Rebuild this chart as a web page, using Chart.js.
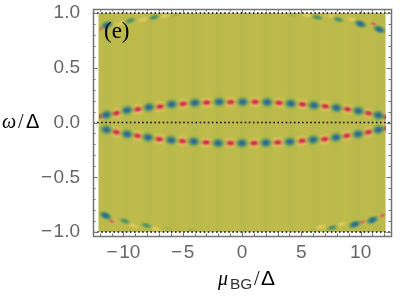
<!DOCTYPE html>
<html>
<head>
<meta charset="UTF-8">
<title>(e)</title>
<script src="https://cdn.jsdelivr.net/npm/chart.js"></script>
<style>
  body { margin: 0; background: #fff; }
  canvas { display: block; }
</style>
</head>
<body>
<canvas id="myChart" width="400" height="297"></canvas>
<script>
// tick labels
var xTicks = [-10, -5, 0, 5, 10];
var yTicks = [-1, -0.5, 0, 0.5, 1];
var xMinor = [-12, -11, -9, -8, -7, -6, -4, -3, -2, -1, 1, 2, 3, 4, 6, 7, 8, 9, 11, 12];
var yMinor = [-0.9, -0.8, -0.7, -0.6, -0.4, -0.3, -0.2, -0.1, 0.1, 0.2, 0.3, 0.4, 0.6, 0.7, 0.8, 0.9];

// band above zero
var upBlueX = [-11.43, -9.69, -7.85, -5.93, -3.97, -1.93, 0.06, 2.12, 4.11, 6.06, 7.96, 9.81, 11.49];
var upBlueY = [0.07, 0.112, 0.139, 0.166, 0.179, 0.188, 0.188, 0.185, 0.173, 0.157, 0.134, 0.106, 0.066];
var upRedX = [-12.04, -10.6, -8.79, -6.92, -4.96, -2.98, -0.97, 1.1, 3.12, 5.1, 7.02, 8.9, 10.66, 12.15];
var upRedY = [0.055, 0.085, 0.121, 0.145, 0.17, 0.182, 0.186, 0.188, 0.179, 0.166, 0.148, 0.121, 0.085, 0.048];

// band below zero
var lowBlueX = [-11.43, -9.69, -7.93, -5.97, -4.07, -2.01, 0, 2.01, 4.03, 6.0, 7.93, 9.78, 11.51];
var lowBlueY = [-0.066, -0.106, -0.136, -0.161, -0.173, -0.188, -0.188, -0.185, -0.176, -0.158, -0.136, -0.106, -0.066];
var lowRedX = [-10.6, -8.82, -6.98, -5.02, -3.03, -0.97, 1.02, 3.02, 5.06, 6.97, 8.82, 10.66, 12.15];
var lowRedY = [-0.088, -0.121, -0.152, -0.17, -0.182, -0.188, -0.188, -0.182, -0.167, -0.152, -0.121, -0.088, -0.052];

// pieces along the top and bottom edges
var edgeBlueX = [-11.4, 11.57, 9.98, -11.5, 10.99, 9.5];
var edgeBlueY = [0.89, 0.85, 0.90, -0.85, -0.89, -0.93];
var edgeGreenX = [-9.42, -7.4, 8.12, 6.34, -9.87, -8.05, 7.6];
var edgeGreenY = [0.93, 0.96, 0.94, 0.96, -0.90, -0.94, -0.96];
var edgeFaintX = [-5.65, 4.3, -6.3, -4.3, 6.2];
var edgeFaintY = [0.98, 0.98, -0.965, -0.98, -0.97];
var edgeRedX = [-11.9, 11.1, -11, 10.15, 11.85];
var edgeRedY = [0.855, 0.90, -0.90, -0.91, -0.85];
var edgeYellowX = [-10.2, -8.3, -6.5, 9.3, 7.6, 5.45, -9.2, -7.3, 8.35, 6.6];
var edgeYellowY = [0.905, 0.94, 0.97, 0.94, 0.965, 0.98, -0.94, -0.97, -0.93, -0.955];

var bgColor = '#bdbb4c';
var frameColor = '#737373';
var labelColor = '#666666';

function blob(w, h, stops) {
    var c = document.createElement('canvas');
    c.width = w;
    c.height = h;
    var g = c.getContext('2d');
    g.translate(w / 2, h / 2);
    g.scale(w / 2, h / 2);
    var rad = g.createRadialGradient(0, 0, 0, 0, 0, 1);
    for (var i = 0; i < stops.length; i++) {
        rad.addColorStop(stops[i][0], stops[i][1]);
    }
    g.fillStyle = rad;
    g.fillRect(-1, -1, 2, 2);
    return c;
}

function stripe(color) {
    var c = document.createElement('canvas');
    c.width = 12;
    c.height = 224;
    var g = c.getContext('2d');
    var lin = g.createLinearGradient(0, 0, 12, 0);
    lin.addColorStop(0, 'rgba(' + color + ',0)');
    lin.addColorStop(0.5, 'rgba(' + color + ',0.04)');
    lin.addColorStop(1, 'rgba(' + color + ',0)');
    g.fillStyle = lin;
    g.fillRect(0, 0, 12, 224);
    return c;
}

var blueSprite = blob(20, 15, [[0, 'rgba(48,95,165,1)'], [0.2, 'rgba(54,108,145,1)'], [0.42, 'rgba(72,142,108,0.8)'], [0.7, 'rgba(125,170,85,0.3)'], [1, 'rgba(189,187,76,0)']]);
var redSprite = blob(22, 13, [[0, 'rgba(208,40,85,1)'], [0.22, 'rgba(212,58,80,1)'], [0.4, 'rgba(230,140,85,0.75)'], [0.7, 'rgba(232,205,95,0.45)'], [1, 'rgba(189,187,76,0)']]);
var greenSprite = blob(16, 8, [[0, 'rgba(60,135,105,1)'], [0.45, 'rgba(85,150,95,0.7)'], [1, 'rgba(189,187,76,0)']]);
var faintSprite = blob(15, 6, [[0, 'rgba(130,168,88,0.7)'], [1, 'rgba(189,187,76,0)']]);
var yellowSprite = blob(17, 7, [[0, 'rgba(232,205,100,0.9)'], [0.5, 'rgba(228,205,95,0.5)'], [1, 'rgba(189,187,76,0)']]);
var edgeRedSprite = blob(10, 6, [[0, 'rgba(210,60,85,1)'], [0.4, 'rgba(225,120,90,0.8)'], [1, 'rgba(189,187,76,0)']]);
var edgeBlueSprite = blob(17, 10, [[0, 'rgba(48,95,165,1)'], [0.3, 'rgba(55,115,140,1)'], [0.6, 'rgba(80,150,100,0.7)'], [1, 'rgba(189,187,76,0)']]);

function zip(xs, ys) {
    return xs.map(function (x, i) { return { x: x, y: ys[i] }; });
}

function bandAt(xs, value) {
    return xs.map(function (x) { return { x: x, y: value }; });
}

// image region stays inside the frame, the same gap on every dataset
var imageClip = { left: -6, right: -5, top: -4, bottom: -4 };

function marks(data, sprite, rotation, order) {
    return {
        data: data,
        pointStyle: sprite,
        pointRadius: 8,
        rotation: rotation,
        clip: imageClip,
        order: order
    };
}

function tiltUp(ctx) { return ctx.raw.x * 1.1; }
function tiltLow(ctx) { return -ctx.raw.x * 1.1; }
function tiltEdge(ctx) { return ctx.raw.y > 0 ? ctx.raw.x * 2 : -ctx.raw.x * 2; }

function dotted(value) {
    return {
        data: [{ x: -12.56, y: value }, { x: 12.56, y: value }],
        showLine: true,
        pointRadius: 0,
        borderColor: '#000000',
        borderWidth: 1.5,
        borderDash: [1.5, 2.6],
        order: 0
    };
}

var imagePlugin = {
    id: 'imagePlugin',
    beforeDatasetsDraw: function (chart) {
        var c = chart.ctx, sx = chart.scales.x, sy = chart.scales.y;
        c.save();
        c.fillStyle = bgColor;
        c.fillRect(sx.getPixelForValue(-12.1), sy.getPixelForValue(1), sx.getPixelForValue(12.1) - sx.getPixelForValue(-12.1), sy.getPixelForValue(-1) - sy.getPixelForValue(1));
        c.restore();
    },
    afterDatasetsDraw: function (chart) {
        var c = chart.ctx, a = chart.chartArea, sx = chart.scales.x, sy = chart.scales.y;
        c.save();
        c.strokeStyle = frameColor;
        c.lineWidth = 1.5;
        c.strokeRect(a.left + 0.5, a.top + 0.5, a.right - a.left, a.bottom - a.top);
        c.lineWidth = 1;

        function xTick(v, len) {
            var p = Math.round(sx.getPixelForValue(v)) + 0.5;
            c.beginPath();
            c.moveTo(p, a.bottom); c.lineTo(p, a.bottom - len);
            c.moveTo(p, a.top); c.lineTo(p, a.top + len);
            c.stroke();
        }
        function yTick(v, len) {
            var p = Math.round(sy.getPixelForValue(v)) + 0.5;
            c.beginPath();
            c.moveTo(a.left, p); c.lineTo(a.left + len, p);
            c.moveTo(a.right, p); c.lineTo(a.right - len, p);
            c.stroke();
        }
        xMinor.forEach(function (v) { xTick(v, 2.5); });
        xTicks.forEach(function (v) { xTick(v, 4.5); });
        yMinor.forEach(function (v) { yTick(v, 2.5); });
        yTicks.forEach(function (v) { yTick(v, 4.5); });

        // labels with mixed fonts
        c.fillStyle = '#000000';
        c.textBaseline = 'alphabetic';
        c.font = '23px "Liberation Serif"';
        c.fillText('(e)', 104, 38);

        c.font = 'italic 20px "Liberation Serif"';
        c.fillText('ω', 2, 128);
        c.font = '20px "Liberation Serif"';
        c.fillText('/', 18, 128);
        c.font = '20px "Liberation Sans"';
        c.fillText('Δ', 26, 128);

        c.font = 'italic 20px "Liberation Serif"';
        c.fillText('μ', 218, 285);
        c.font = '15.5px "Liberation Sans"';
        c.fillStyle = '#333333';
        c.fillText('BG', 230, 289);
        c.fillStyle = '#000000';
        c.font = '20px "Liberation Serif"';
        c.fillText('/', 254, 285);
        c.font = '21px "Liberation Sans"';
        c.fillText('Δ', 261, 285);
        c.restore();
    }
};

function noPadding(s) {
    s.paddingLeft = 0;
    s.paddingRight = 0;
    s.paddingTop = 0;
    s.paddingBottom = 0;
}

new Chart(document.getElementById('myChart'), {
    type: 'scatter',
    data: {
        datasets: [
            dotted(1), dotted(0), dotted(-1),
            marks(zip(upBlueX, upBlueY), blueSprite, tiltUp, 1),
            marks(zip(upRedX, upRedY), redSprite, tiltUp, 2),
            marks(zip(lowBlueX, lowBlueY), blueSprite, tiltLow, 1),
            marks(zip(lowRedX, lowRedY), redSprite, tiltLow, 2),
            marks(zip(edgeBlueX, edgeBlueY), edgeBlueSprite, tiltEdge, 3),
            marks(zip(edgeRedX, edgeRedY), edgeRedSprite, tiltEdge, 3),
            marks(zip(edgeGreenX, edgeGreenY), greenSprite, tiltEdge, 4),
            marks(zip(edgeYellowX, edgeYellowY), yellowSprite, tiltEdge, 4),
            marks(zip(edgeFaintX, edgeFaintY), faintSprite, tiltEdge, 4),
            marks(bandAt(upBlueX, 0), stripe('70,130,100'), 0, 5),
            marks(bandAt(upRedX, 0), stripe('235,205,95'), 0, 5)
        ]
    },
    options: {
        responsive: false,
        animation: false,
        layout: { padding: { top: 8, right: 3, left: 0, bottom: 0 } },
        plugins: { legend: { display: false }, tooltip: { enabled: false } },
        scales: {
            x: {
                type: 'linear',
                min: -12.56,
                max: 12.56,
                grid: { display: false },
                border: { display: false },
                afterBuildTicks: function (s) { s.ticks = xTicks.map(function (v) { return { value: v }; }); },
                afterFit: function (s) { s.height = 61; noPadding(s); },
                ticks: {
                    color: labelColor,
                    padding: -3,
                    maxRotation: 0,
                    font: { family: '"Liberation Sans"', size: 19 },
                    callback: function (v) { return v < 0 ? '\u2212\u200a' + (-v) : String(v); }
                }
            },
            y: {
                type: 'linear',
                min: -1.036,
                max: 1.036,
                grid: { display: false },
                border: { display: false },
                afterBuildTicks: function (s) { s.ticks = yTicks.map(function (v) { return { value: v }; }); },
                afterFit: function (s) { s.width = 93; noPadding(s); },
                ticks: {
                    color: labelColor,
                    padding: 5,
                    font: { family: '"Liberation Sans"', size: 19 },
                    callback: function (v) { return v < 0 ? '\u2212\u200a' + (-v).toFixed(1) : v.toFixed(1); }
                }
            }
        }
    },
    plugins: [imagePlugin]
});
</script>
</body>
</html>
